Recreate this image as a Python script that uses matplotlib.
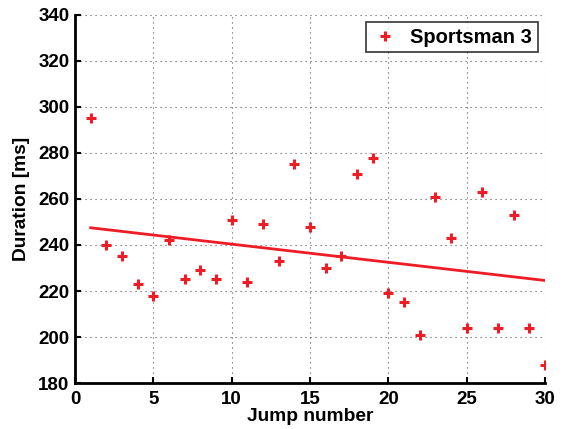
import numpy as np
import matplotlib
matplotlib.use("Agg")
import matplotlib.pyplot as plt

jumps = np.arange(1, 31)
durations = [295, 240, 235, 223, 218, 242, 225, 229, 225, 251,
             224, 249, 233, 275, 248, 230, 235, 271, 278, 219,
             215, 201, 261, 243, 204, 263, 204, 253, 204, 188]
label = "Sportsman 3"

RED = "#ee1c24"

plt.rcParams["font.family"] = ["Liberation Sans", "DejaVu Sans"]
plt.rcParams["font.weight"] = "bold"

fig = plt.figure(figsize=(5.63, 4.29), dpi=100)
ax = fig.add_axes([75 / 563, 1 - 383 / 429, 470 / 563, 368 / 429])

ax.plot(jumps, durations, "+", color=RED, markersize=7, markeredgewidth=2.2,
        label=label, zorder=3)

# least-squares trend line
slope, icpt = np.polyfit(jumps, durations, 1)
ax.plot(jumps, slope * jumps + icpt, color=RED, linewidth=2, zorder=3)

ax.set_xlim(0, 30)
ax.set_ylim(180, 340)
ax.set_xticks(range(0, 31, 5))
ax.set_yticks(range(180, 341, 20))
ax.grid(True, linestyle=(0, (1, 3.5)), color="#555555", linewidth=0.8)
ax.set_axisbelow(True)

for s in ("top", "right"):
    ax.spines[s].set_visible(False)
for s in ("left", "bottom"):
    ax.spines[s].set_linewidth(2)
ax.tick_params(direction="in", length=4, width=1.5, labelsize=13.5)
ax.tick_params(axis="x", pad=6)
ax.tick_params(axis="y", pad=4)
for t in ax.get_xticklabels() + ax.get_yticklabels():
    t.set_fontweight("bold")

ax.set_xlabel("Jump number", fontsize=13.8, fontweight="bold", labelpad=0)
ax.set_ylabel("Duration [ms]", fontsize=13.8, fontweight="bold", labelpad=6)

leg = ax.legend(loc="upper right", fontsize=14.5, frameon=True, fancybox=False,
                borderaxespad=0.35, handlelength=1.4, borderpad=0.28,
                handletextpad=0.55)
leg.get_frame().set_edgecolor("black")
leg.get_frame().set_linewidth(1.2)
for t in leg.get_texts():
    t.set_fontweight("bold")

fig.savefig("out.png", dpi=100, facecolor="white")
